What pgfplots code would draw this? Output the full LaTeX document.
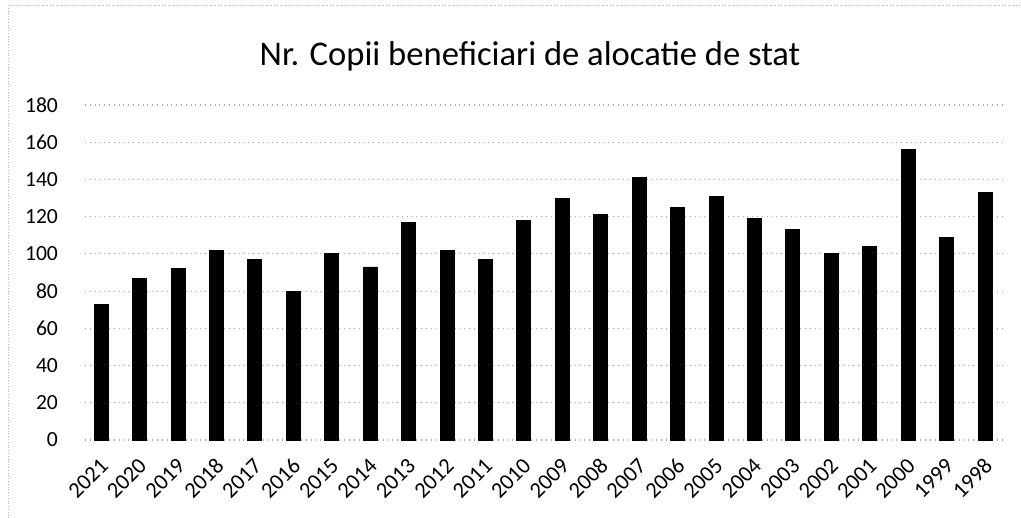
\documentclass[border=0pt]{standalone}
\usepackage{fontspec}
\setmainfont{Carlito}
\usepackage{pgfplots}
\pgfplotsset{compat=1.18}
\begin{document}
\begin{tikzpicture}
\path[use as bounding box] (0,0) rectangle (510.5pt,-259pt);
\draw[gray!60, densely dotted] (4pt,-2.5pt) -- (510.5pt,-2.5pt);
\draw[gray!60, densely dotted] (4pt,-2.5pt) -- (4pt,-259pt);
\node[font=\fontsize{17.3}{20}\selectfont] at (265pt,-28pt) {Nr. Copii beneficiari de alocatie de stat};
\begin{axis}[
  at={(42.5pt,-220pt)}, anchor=south west,
  scale only axis, width=460pt, height=167.5pt,
  ymin=0, ymax=180, xmin=-0.42, xmax=23.52,
  ytick={0,20,...,180},
  xtick={0,...,23},
  xticklabels={2021,2020,2019,2018,2017,2016,2015,2014,2013,2012,2011,2010,2009,2008,2007,2006,2005,2004,2003,2002,2001,2000,1999,1998},
  tick label style={font=\fontsize{10.8}{12}\selectfont},
  x tick label style={rotate=45, anchor=north east, inner sep=0pt, yshift=-5pt, xshift=-6.5pt, font=\fontsize{11.2}{12}\selectfont},
  /pgf/number format/assume math mode=true,
  y tick label style={xshift=-10pt},
  major tick length=0pt,
  axis line style={draw=none},
  ymajorgrids, grid style={gray!70, dotted, line width=0.6pt},
  ybar, bar width=7pt,
]
\addplot[fill=black, draw=black] coordinates {
(0,73) (1,87) (2,92) (3,102) (4,97) (5,80) (6,100) (7,93) (8,117) (9,102) (10,97) (11,118) (12,130) (13,121) (14,141) (15,125) (16,131) (17,119) (18,113) (19,100) (20,104) (21,156) (22,109) (23,133)
};
\end{axis}
\end{tikzpicture}
\end{document}
